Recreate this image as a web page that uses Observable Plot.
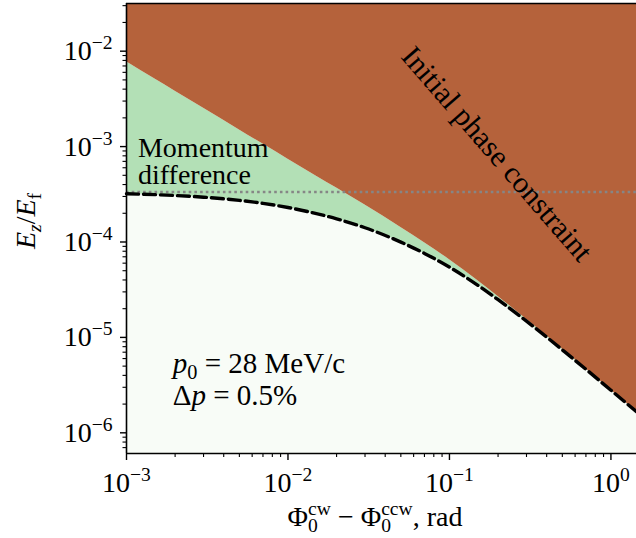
<!DOCTYPE html>
<html><head><meta charset="utf-8">
<script src="https://cdn.jsdelivr.net/npm/d3@7"></script>
<script src="https://cdn.jsdelivr.net/npm/@observablehq/plot@0.6"></script>
<style>body{margin:0;background:#fff} svg{display:block}</style>
</head><body><div id="chart"></div>
<script>
// phase difference values (rad)
const phi = [0.001, 0.0015, 0.002, 0.003, 0.005, 0.007, 0.01, 0.015, 0.02, 0.03, 0.05, 0.07, 0.1, 0.15, 0.2, 0.3, 0.4, 0.5, 0.7, 1.0, 1.44];
// combined limit (dashed curve), E_z/E_f
const combined = [3.202e-4, 3.135e-4, 3.071e-4, 2.949e-4, 2.730e-4, 2.541e-4, 2.299e-4, 1.983e-4, 1.749e-4, 1.410e-4, 9.97e-5, 7.59e-5, 5.455e-5, 3.516e-5, 2.485e-5, 1.480e-5, 1.007e-5, 7.40e-6, 4.635e-6, 2.794e-6, 1.667e-6];
// initial phase constraint (lower edge of brown region)
const phase = [7.73e-3, 5.10e-3, 3.81e-3, 2.52e-3, 1.496e-3, 1.062e-3, 7.38e-4, 4.88e-4, 3.67e-4, 2.44e-4, 1.422e-4, 9.82e-5, 6.52e-5, 3.93e-5, 2.685e-5, 1.549e-5, 1.038e-5, 7.57e-6, 4.70e-6, 2.818e-6, 1.675e-6];
// momentum difference level (dotted line)
const momentumLevel = [3.34e-4];

const xDomain = [1e-3, 1.44];
const yDomain = [6.07e-7, 3.16e-2];
const xMajorTicks = [1e-3, 1e-2, 1e-1, 1];
const xTickLabels = ["10^-3", "10^-2", "10^-1", "10^0"];
const yMajorTicks = [1e-6, 1e-5, 1e-4, 1e-3, 1e-2];
const yTickLabels = ["10^-6", "10^-5", "10^-4", "10^-3", "10^-2"];

// annotation anchor positions (data coordinates)
const momentumLabelPos = [[1.186e-3, 7.69e-4, "Momentum"], [1.186e-3, 4.01e-4, "difference"]];
const phaseLabelPos = [0.198, 8.26e-4];
const notePos = [[1.95e-3, 4.19e-6], [1.95e-3, 1.93e-6]];

const brown = "#b5623b", green = "#b3e0b6", light = "#f8fcf7";

const rows = phi.map((x, i) => ({x, lo: combined[i], hi: phase[i]}));
const minor = (lo, hi) => {
  const out = [];
  for (let e = -8; e <= 1; e++) for (let m = 2; m <= 9; m++) {
    const v = m * Math.pow(10, e);
    if (v >= lo && v <= hi) out.push(v);
  }
  return out;
};

const plot = Plot.plot({
  width: 636, height: 538,
  marginLeft: 126, marginRight: 0, marginTop: 3, marginBottom: 85,
  x: {type: "log", domain: xDomain, label: null},
  y: {type: "log", domain: yDomain, label: null},
  style: {fontFamily: "'Liberation Serif', serif", fontSize: "28px", color: "black", background: "white", overflow: "visible"},
  marks: [
    Plot.areaY(rows, {x: "x", y1: () => yDomain[0], y2: "lo", fill: light, curve: "monotone-x"}),
    Plot.areaY(rows, {x: "x", y1: "lo", y2: "hi", fill: green, curve: "monotone-x"}),
    Plot.areaY(rows, {x: "x", y1: "hi", y2: () => yDomain[1], fill: brown, curve: "monotone-x"}),
    Plot.ruleY(momentumLevel, {stroke: "#868686", strokeWidth: 2.6, strokeDasharray: "2.6,3.1"}),
    Plot.line(rows, {x: "x", y: "lo", stroke: "black", strokeWidth: 3.4, strokeDasharray: "12,5", curve: "monotone-x"}),
    Plot.ruleX([xDomain[0]], {stroke: "black", strokeWidth: 1.6}),
    Plot.ruleY([yDomain[0]], {stroke: "black", strokeWidth: 1.6}),
    Plot.ruleY([yDomain[1]], {stroke: "black", strokeWidth: 1.6}),
    Plot.axisX({ticks: minor(xDomain[0], xDomain[1]), tickFormat: () => "", tickSize: 4, strokeWidth: 1.1, label: null}),
    Plot.axisX({ticks: xMajorTicks, tickFormat: d => xTickLabels[xMajorTicks.indexOf(d)], tickSize: 7, tickPadding: 12, strokeWidth: 1.4, label: null}),
    Plot.axisY({ticks: minor(yDomain[0], yDomain[1]), tickFormat: () => "", tickSize: 3.5, strokeWidth: 1.1, label: null}),
    Plot.axisY({ticks: yMajorTicks, tickFormat: d => yTickLabels[yMajorTicks.indexOf(d)], tickSize: 6, tickPadding: 8, strokeWidth: 1.4, label: null})
  ]
});

document.getElementById("chart").appendChild(plot);
const svg = d3.select(plot);

// rich text helper
function fillRich(textSel, segs, base = 28) {
  let cur = 0;
  segs.forEach(s => {
    const shift = s.sub ? 6 : s.sup ? -11 : 0;
    const ts = textSel.append("tspan").text(s.t);
    if (s.sub || s.sup) ts.attr("font-size", (base * 0.7) + "px");
    if (s.i) ts.attr("font-style", "italic");
    if (shift - cur !== 0) ts.attr("dy", shift - cur);
    if (s.dx) ts.attr("dx", s.dx);
    cur = shift;
  });
}

// tick labels with superscripts
plot.querySelectorAll("text").forEach(el => {
  const m = /^10\^(-?\d+)$/.exec(el.textContent);
  if (!m) return;
  el.textContent = "";
  fillRich(d3.select(el), [{t: "10"}, {t: m[1].replace("-", "\u2212"), sup: true}]);
});

const sx = plot.scale("x").apply, sy = plot.scale("y").apply;
const g = svg.append("g").attr("font-family", "'Liberation Serif', serif").attr("font-size", "28px")
  .attr("fill", "black").attr("text-anchor", "start");

momentumLabelPos.forEach(([x, y, t]) => {
  g.append("text").attr("x", sx(x)).attr("y", sy(y)).text(t);
});

g.append("text")
  .attr("transform", `translate(${sx(phaseLabelPos[0])},${sy(phaseLabelPos[1])}) rotate(49)`)
  .attr("text-anchor", "middle").attr("dy", "0.32em").attr("font-size", "30px")
  .text("Initial phase constraint");

fillRich(g.append("text").attr("x", sx(notePos[0][0])).attr("y", sy(notePos[0][1])).attr("font-size", "29px"),
  [{t: "p", i: true}, {t: "0", sub: true}, {t: " = 28 MeV/c"}], 29);
fillRich(g.append("text").attr("x", sx(notePos[1][0])).attr("y", sy(notePos[1][1])).attr("font-size", "29px"),
  [{t: "\u0394"}, {t: "p", i: true}, {t: " = 0.5%"}], 29);

// axis titles
const xr = plot.scale("x").range, yr = plot.scale("y").range;
fillRich(g.append("text").attr("text-anchor", "middle")
  .attr("x", (xr[0] + xr[1]) / 2 - 6).attr("y", Math.max(yr[0], yr[1]) + 73),
  [{t: "\u03a6"}, {t: "0", sub: true}, {t: "cw", sup: true, dx: -9.8},
   {t: " \u2212 \u03a6"}, {t: "0", sub: true}, {t: "ccw", sup: true, dx: -9.8}, {t: ", rad"}]);

fillRich(g.append("text").attr("text-anchor", "middle")
  .attr("transform", `translate(${xr[0] - 91},${(yr[0] + yr[1]) / 2 - 7}) rotate(-90)`),
  [{t: "E", i: true}, {t: "z", i: true, sub: true}, {t: "/"}, {t: "E", i: true}, {t: "f", sub: true}]);
</script>
</body></html>
